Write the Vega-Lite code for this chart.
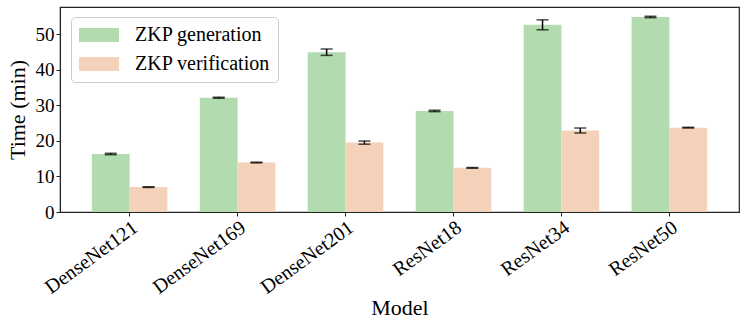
{
  "$schema": "https://vega.github.io/schema/vega-lite/v6.json",
  "width": 679,
  "height": 205,
  "autosize": {"type": "none"},
  "padding": {"left": 60, "top": 7, "right": 8, "bottom": 117},
  "config": {
    "font": "Liberation Serif",
    "view": {"stroke": "#222", "strokeWidth": 1.2},
    "axis": {"grid": false, "domainColor": "#222", "tickColor": "#222", "labelColor": "#000", "titleColor": "#000", "titleFontWeight": "normal", "labelFont": "Liberation Serif", "titleFont": "Liberation Serif"},
    "legend": {"labelFont": "Liberation Serif", "labelColor": "#000"}
  },
  "data": {
    "values": [
      {"model": "DenseNet121", "type": "ZKP generation", "value": 16.3, "lo": 16.1, "hi": 16.5},
      {"model": "DenseNet121", "type": "ZKP verification", "value": 7.0, "lo": 6.9, "hi": 7.1},
      {"model": "DenseNet169", "type": "ZKP generation", "value": 32.1, "lo": 31.95, "hi": 32.25},
      {"model": "DenseNet169", "type": "ZKP verification", "value": 13.9, "lo": 13.8, "hi": 14.0},
      {"model": "DenseNet201", "type": "ZKP generation", "value": 44.9, "lo": 44.0, "hi": 45.8},
      {"model": "DenseNet201", "type": "ZKP verification", "value": 19.5, "lo": 19.05, "hi": 19.95},
      {"model": "ResNet18", "type": "ZKP generation", "value": 28.4, "lo": 28.2, "hi": 28.6},
      {"model": "ResNet18", "type": "ZKP verification", "value": 12.4, "lo": 12.3, "hi": 12.5},
      {"model": "ResNet34", "type": "ZKP generation", "value": 52.6, "lo": 51.2, "hi": 54.0},
      {"model": "ResNet34", "type": "ZKP verification", "value": 22.9, "lo": 22.2, "hi": 23.6},
      {"model": "ResNet50", "type": "ZKP generation", "value": 54.8, "lo": 54.6, "hi": 55.0},
      {"model": "ResNet50", "type": "ZKP verification", "value": 23.7, "lo": 23.6, "hi": 23.8}
    ]
  },
  "encoding": {
    "x": {
      "field": "model", "type": "nominal", "sort": null,
      "scale": {"paddingInner": 0.3, "paddingOuter": 0.295},
      "axis": {"title": "Model", "labelAngle": -36, "labelAlign": "right", "labelBaseline": "top", "labelFontSize": 20, "titleFontSize": 22, "tickSize": 4, "labelPadding": 1, "titlePadding": 0}
    },
    "xOffset": {"field": "type", "type": "nominal"}
  },
  "layer": [
    {
      "mark": {"type": "bar"},
      "encoding": {
        "y": {
          "field": "value", "type": "quantitative",
          "scale": {"domain": [0, 57.6], "nice": false},
          "axis": {"title": "Time (min)", "values": [0, 10, 20, 30, 40, 50], "labelFontSize": 19, "titleFontSize": 22, "tickSize": 4, "labelPadding": 2, "titlePadding": 6}
        },
        "color": {
          "field": "type", "type": "nominal",
          "scale": {"domain": ["ZKP generation", "ZKP verification"], "range": ["#b2dbb0", "#f3d2b9"]},
          "legend": {
            "title": null, "orient": "none", "legendX": 11, "legendY": 10,
            "symbolType": "M-1,-0.7L3,-0.7L3,0.7L-1,0.7Z", "symbolSize": 400, "symbolStrokeWidth": 0,
            "labelFont": "Liberation Serif", "labelFontSize": 20, "labelOffset": 36, "rowPadding": 9, "labelLimit": 300,
            "padding": 8, "strokeColor": "#ccc", "fillColor": "white", "cornerRadius": 4,
            "encode": {"labels": {"enter": {"font": {"value": "Liberation Serif"}}, "update": {"font": {"value": "Liberation Serif"}}}}
          }
        }
      }
    },
    {
      "mark": {"type": "rule", "color": "#000", "strokeWidth": 1.5},
      "encoding": {"y": {"field": "lo", "type": "quantitative"}, "y2": {"field": "hi"}}
    },
    {
      "mark": {"type": "tick", "color": "#000", "size": 12, "thickness": 1.5, "orient": "horizontal"},
      "encoding": {"y": {"field": "lo", "type": "quantitative"}}
    },
    {
      "mark": {"type": "tick", "color": "#000", "size": 12, "thickness": 1.5, "orient": "horizontal"},
      "encoding": {"y": {"field": "hi", "type": "quantitative"}}
    }
  ]
}
